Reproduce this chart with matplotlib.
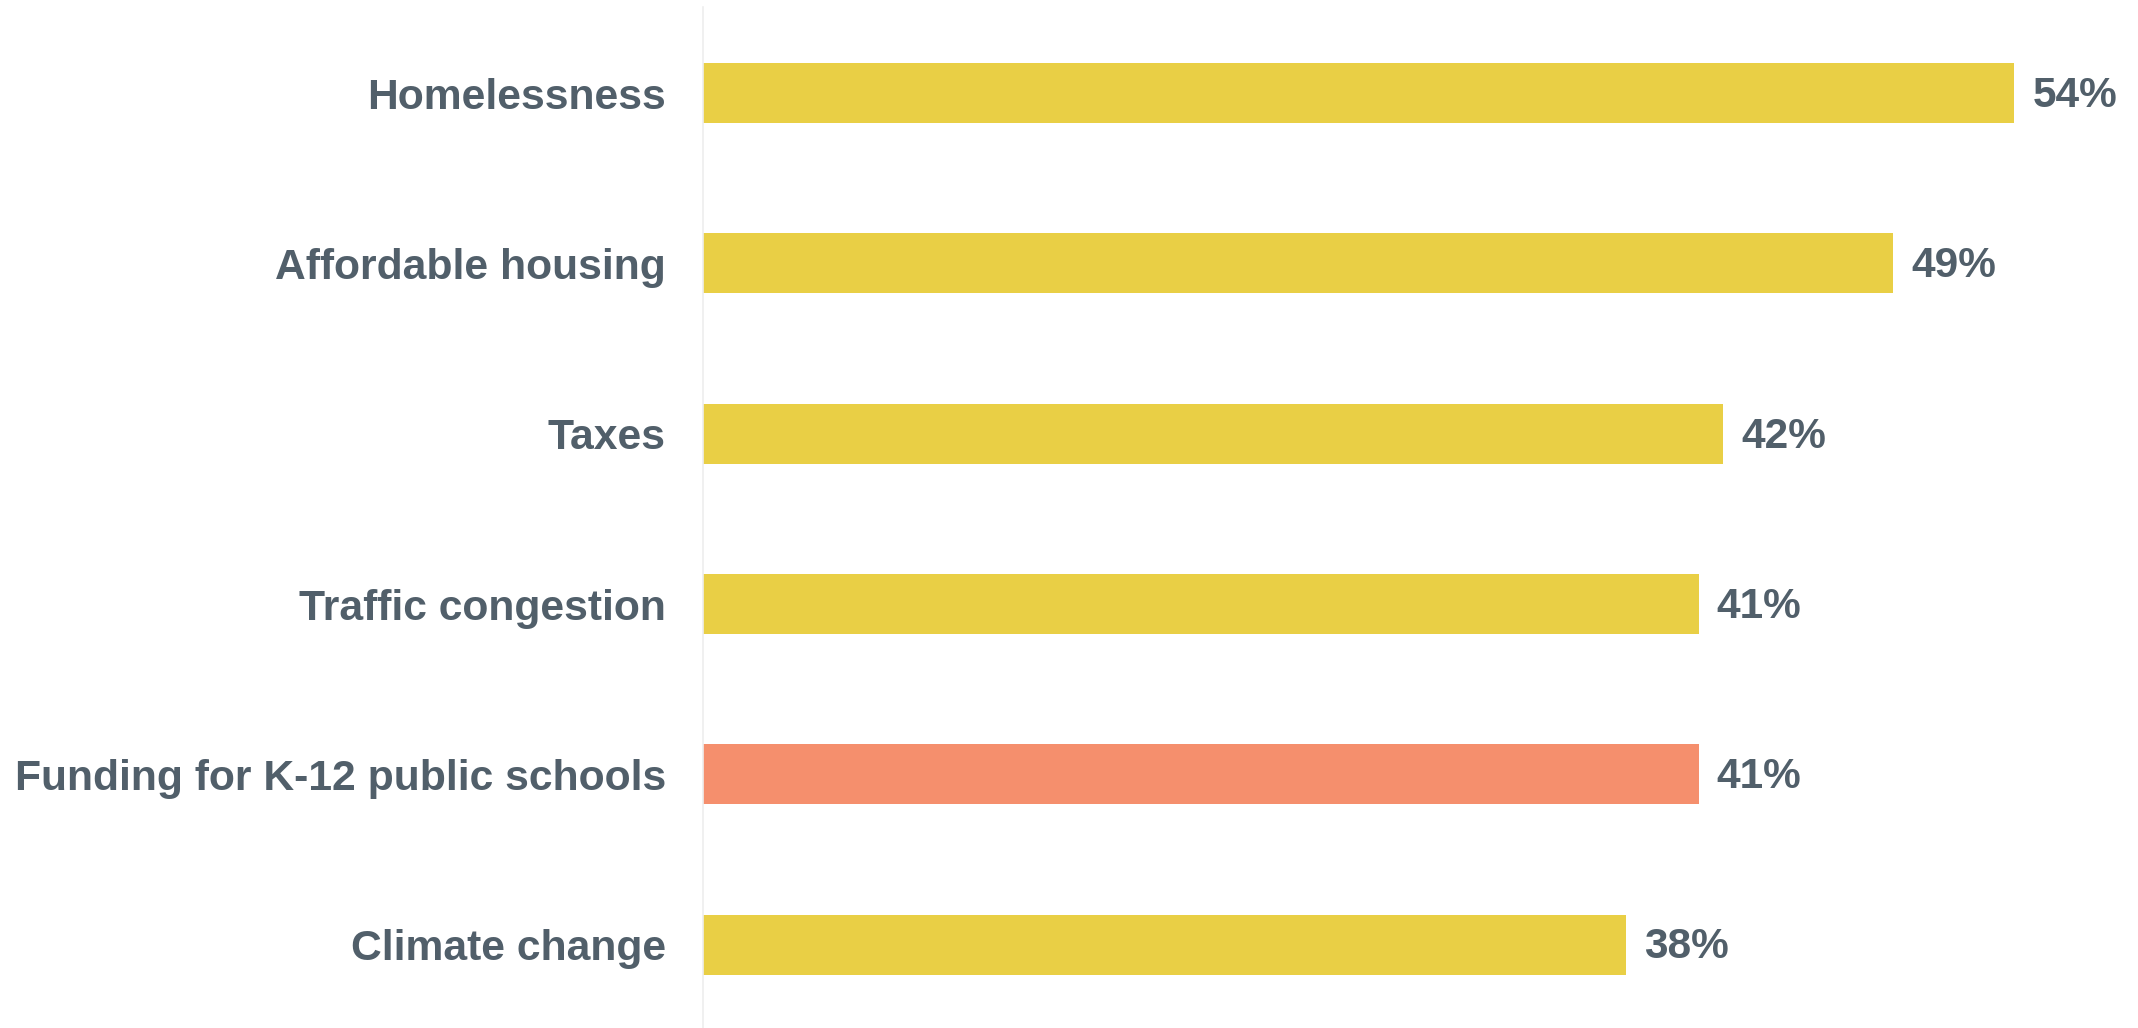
#!/usr/bin/env python3
"""
Horizontal bar chart of top issues
"""
import matplotlib
matplotlib.use("Agg")
import matplotlib.pyplot as plt

issues = ["Homelessness", "Affordable housing", "Taxes", "Traffic congestion",
          "Funding for K-12 public schools", "Climate change"]
shares = [54, 49, 42, 41, 41, 38]
highlight = "Funding for K-12 public schools"

YELLOW = "#E9CF45"
SALMON = "#F58F6D"
TEXT = "#515F6A"


def main():
    plt.rcParams["font.family"] = ["Liberation Sans", "DejaVu Sans"]
    fig = plt.figure(figsize=(21.38, 10.28), dpi=100)
    ax = fig.add_axes([0.329, 0.0, 0.671, 0.993])

    colors = [SALMON if name == highlight else YELLOW for name in issues]
    ypos = list(range(len(issues)))
    ax.barh(ypos, shares, height=0.352, color=colors)

    for y, v in zip(ypos, shares):
        ax.annotate("{}%".format(v), xy=(v, y), xytext=(13, -2),
                    textcoords="offset points", va="center", ha="left",
                    fontsize=30.5, fontweight="bold", color=TEXT)

    ax.set_yticks(ypos)
    ax.set_yticklabels(issues, fontsize=30.7, fontweight="bold", color=TEXT)
    ax.tick_params(axis="y", length=0, pad=27)
    ax.set_xticks([])
    ax.set_xlim(0, 59.1)
    ax.set_ylim(5.49, -0.505)

    for side in ["top", "right", "bottom"]:
        ax.spines[side].set_visible(False)
    ax.spines["left"].set_color("#EEEEEE")
    ax.spines["left"].set_linewidth(1.2)

    plt.savefig("out.png", dpi=100)


if __name__ == "__main__":
    main()
